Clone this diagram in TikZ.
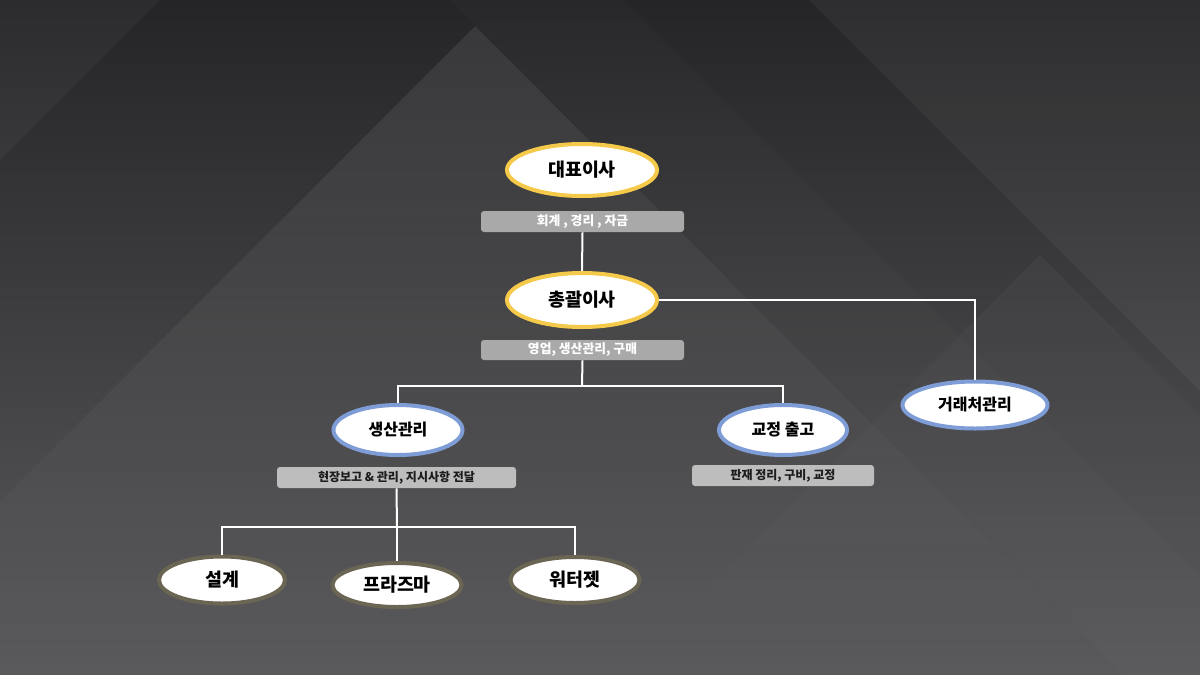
\documentclass[tikz,border=0pt]{standalone}
\usepackage{fontspec}
\setmainfont{Noto Sans CJK KR}
\usetikzlibrary{shapes.geometric,fadings}
\definecolor{bgtop}{HTML}{252527}
\definecolor{bgmid}{HTML}{2E2E30}
\definecolor{bgbot}{HTML}{5A5A5D}
\definecolor{gold}{HTML}{F5C94A}
\definecolor{blueb}{HTML}{7E9DD6}
\definecolor{oliveb}{HTML}{6B6553}
\definecolor{labA}{HTML}{A9A9AA}
\definecolor{labB}{HTML}{BDBDBD}
\definecolor{labtxt}{HTML}{1C1C1C}
\tikzset{
  ovalbase/.style={ellipse, fill=white, line width=2pt, inner sep=0pt, text=black},
  topoval/.style={ovalbase, draw=gold, font=\bfseries\fontsize{9.2}{11}\selectfont},
  midoval/.style={ovalbase, draw=blueb, font=\bfseries\fontsize{8}{10}\selectfont},
  lowoval/.style={ovalbase, draw=oliveb, font=\bfseries\fontsize{9.2}{11}\selectfont},
  labbox/.style={rectangle, rounded corners=1.5pt, inner sep=0pt},
  labwhite/.style={labbox, fill=labA, text=white, font=\bfseries\fontsize{6.4}{8}\selectfont},
  labdark/.style={labbox, fill=labB, text=labtxt, font=\bfseries\fontsize{6}{7}\selectfont},
  conn/.style={draw=white, line width=1pt}
}
\begin{document}
\begin{tikzpicture}[x=0.5pt,y=-0.5pt]
\useasboundingbox (0,0) rectangle (1200,675);
% background
\fill[top color=bgtop, middle color=bgmid, bottom color=bgbot] (0,0) rectangle (1200,675);
\fill[white, opacity=0.035] (0,0) -- (160,0) -- (0,160) -- cycle;
\fill[white, opacity=0.085, path fading=south] (476,26) -- (1125,675) -- (0,675) -- (0,502) -- cycle;
\fill[white, opacity=0.015] (450,0) -- (623,0) -- (1200,577) -- (1200,675) -- (1125,675) -- cycle;
\fill[white, opacity=0.045] (809,0) -- (1200,0) -- (1200,391) -- cycle;
\fill[white, opacity=0.03, path fading=south] (1040,255) -- (1200,415) -- (1200,675) -- (620,675) -- cycle;

% nodes
\node[topoval, minimum width=75pt, minimum height=26pt] (ceo) at (582,170) {대표이사};
\node[labwhite, minimum width=101.5pt, minimum height=10.5pt] (l1) at (582.5,221.5) {회계 , 경리 , 자금};
\node[topoval, minimum width=75pt, minimum height=27pt] (gm) at (582,300) {총괄이사};
\node[labwhite, minimum width=101.5pt, minimum height=10pt] (l2) at (582.5,350) {영업, 생산관리, 구매};
\node[midoval, minimum width=72.5pt, minimum height=23.5pt] (cust) at (975,405) {거래처관리};
\node[midoval, minimum width=64.5pt, minimum height=25pt] (prod) at (398,430) {생산관리};
\node[midoval, minimum width=64pt, minimum height=25pt] (ship) at (783,430) {교정 출고};
\node[labdark, minimum width=119.5pt, minimum height=10.5pt] (l3) at (396.5,477.5) {현장보고 \& 관리, 지시사항 전달};
\node[labdark, minimum width=91pt, minimum height=10.5pt] (l4) at (783,475.5) {판재 정리, 구비, 교정};
\node[lowoval, minimum width=63pt, minimum height=23.5pt] (des) at (222,580) {설계};
\node[lowoval, minimum width=64.5pt, minimum height=22pt] (pla) at (397,585) {프라즈마};
\node[lowoval, minimum width=64.5pt, minimum height=23pt] (wat) at (575,580) {워터젯};

% junctions
\coordinate (j1) at (582,386);
\coordinate (j2) at (397,527);

% connectors
\draw[conn] (l1.south) -- (gm.north);
\draw[conn] (gm.east) -| (cust.north);
\draw[conn] (l2.south) -- (j1);
\draw[conn] (prod.north) |- (j1) -| (ship.north);
\draw[conn] (l3.south) -- (j2);
\draw[conn] (des.north) |- (j2) -| (wat.north);
\draw[conn] (j2) -- (pla.north);
\end{tikzpicture}
\end{document}
